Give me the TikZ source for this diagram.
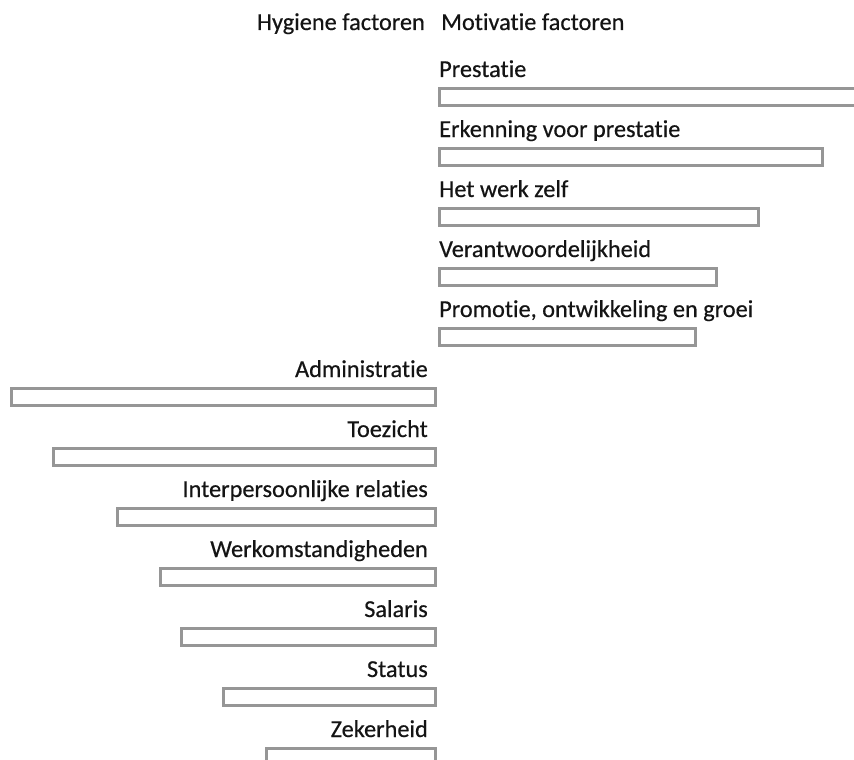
\documentclass[tikz,border=0pt]{standalone}
\usepackage{fontspec}
\setmainfont{Carlito}[Ligatures=CommonOff]
\newfontfamily\lblfont{Carlito}[Ligatures=CommonOff, FakeBold=0.5]
\definecolor{barline}{RGB}{150,150,150}
\definecolor{txt}{RGB}{20,20,20}
\begin{document}
\begin{tikzpicture}[x=1pt,y=-1pt,
  bar/.style={draw=barline, line width=2.8pt, fill=white, inner sep=0pt, minimum height=17pt},
  lbl/.style={text=txt, font=\lblfont\fontsize{24.3}{28}\selectfont, inner sep=0pt}]
\useasboundingbox (0,0) rectangle (854,760);
% headers
\node[lbl, anchor=base east] (hyg) at (425,30) {Hygiene factoren};
\node[lbl, anchor=base west] (mot) at (441,30) {Motivatie factoren};
% motivation factors
\node[bar, anchor=north west, minimum width=420pt] (m1) at (438,87) {};
\node[lbl, anchor=base west] (t1) at (439,77) {Prestatie};
\node[bar, anchor=north west, minimum width=383pt] (m2) at (438,147) {};
\node[lbl, anchor=base west] (t2) at (439,137) {Erkenning voor prestatie};
\node[bar, anchor=north west, minimum width=319pt] (m3) at (438,207) {};
\node[lbl, anchor=base west] (t3) at (439,197) {Het werk zelf};
\node[bar, anchor=north west, minimum width=277pt] (m4) at (438,267) {};
\node[lbl, anchor=base west] (t4) at (439,257) {Verantwoordelijkheid};
\node[bar, anchor=north west, minimum width=256pt] (m5) at (438,327) {};
\node[lbl, anchor=base west] (t5) at (439,317) {Promotie, ontwikkeling en groei};
% hygiene factors
\node[bar, anchor=north east, minimum width=424pt] (h1) at (437,387) {};
\node[lbl, anchor=base east] (u1) at (428,377) {Administratie};
\node[bar, anchor=north east, minimum width=382pt] (h2) at (437,447) {};
\node[lbl, anchor=base east] (u2) at (428,437) {Toezicht};
\node[bar, anchor=north east, minimum width=318pt] (h3) at (437,507) {};
\node[lbl, anchor=base east] (u3) at (428,497) {Interpersoonlijke relaties};
\node[bar, anchor=north east, minimum width=275pt] (h4) at (437,567) {};
\node[lbl, anchor=base east] (u4) at (428,557) {Werkomstandigheden};
\node[bar, anchor=north east, minimum width=254pt] (h5) at (437,627) {};
\node[lbl, anchor=base east] (u5) at (428,617) {Salaris};
\node[bar, anchor=north east, minimum width=212pt] (h6) at (437,687) {};
\node[lbl, anchor=base east] (u6) at (428,677) {Status};
\node[bar, anchor=north east, minimum width=169pt] (h7) at (437,747) {};
\node[lbl, anchor=base east] (u7) at (428,737) {Zekerheid};
\end{tikzpicture}
\end{document}
